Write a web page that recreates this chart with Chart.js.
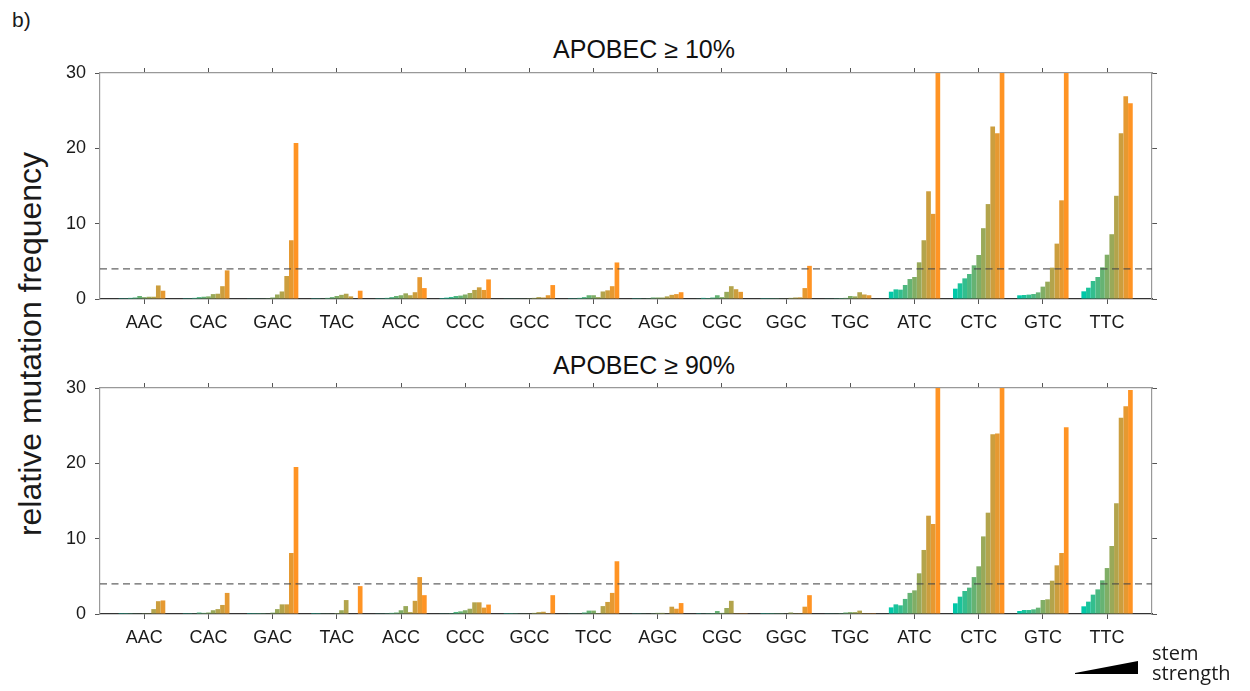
<!DOCTYPE html>
<html>
<head>
<meta charset="utf-8">
<title>APOBEC mutation frequency by stem strength</title>
<script src="https://cdn.jsdelivr.net/npm/chart.js@4"></script>
<style>
    body {
        margin: 0;
        width: 1250px;
        height: 691px;
        position: relative;
        overflow: hidden;
        background: #fff;
        font-family: "Liberation Sans", Arial, sans-serif;
        color: #1a1a1a;
    }
    canvas { position: absolute; left: 0; }
    #panel-label { position: absolute; left: 12px; top: 8px; font-size: 21px; line-height: 24px; }
    .panel-title {
        position: absolute; left: 644px;
        transform: translateX(-50%);
        white-space: nowrap; font-size: 25px; line-height: 30px; color: #111;
    }
    #y-title {
        position: absolute; left: 30px; top: 344px;
        transform: translate(-50%, -50%) rotate(-90deg);
        white-space: nowrap; font-size: 32px; line-height: 36px;
    }
    #stem-wedge { position: absolute; left: 1075px; top: 660px; }
    #stem-label {
        position: absolute; left: 1152px; top: 643px;
        font-family: "Open Sans", "Noto Sans", sans-serif;
        font-size: 20px; line-height: 20px;
    }
</style>
</head>
<body>
<div id="panel-label">b)</div>
<div id="y-title">relative mutation frequency</div>
<div class="panel-title" id="title-10" style="top:34px"></div>
<div class="panel-title" id="title-90" style="top:350px"></div>
<canvas id="chart-10" width="1250" height="315" style="top:30px"></canvas>
<canvas id="chart-90" width="1250" height="315" style="top:345px"></canvas>
<svg id="stem-wedge" width="64" height="15"><polygon points="0,13 63,1 63,14 0,14" fill="#000"/></svg>
<div id="stem-label">stem<br>strength</div>

<script>
// --- Données ---

// contextes trinucléotidiques (axe x)
const contexts = ['AAC', 'CAC', 'GAC', 'TAC', 'ACC', 'CCC', 'GCC', 'TCC',
                  'AGC', 'CGC', 'GGC', 'TGC', 'ATC', 'CTC', 'GTC', 'TTC'];

// 11 niveaux de force de tige, du plus faible au plus fort
const stemLevels = [1, 2, 3, 4, 5, 6, 7, 8, 9, 10, 11];

const panelTitles = ['APOBEC \u2265 10%', 'APOBEC \u2265 90%'];
const yTicks = [0, 10, 20, 30];
const cutoff = 4;

// une ligne par contexte, une valeur par niveau de tige
const freqApobec10 = [
    [0.1, 0.1, 0.15, 0.2, 0.4, 0.25, 0.3, 0.3, 1.8, 1.1, 0],          // AAC
    [0.1, 0.1, 0.15, 0.25, 0.3, 0.35, 0.65, 0.7, 1.7, 3.8, 0],        // CAC
    [0.05, 0.05, 0.05, 0.05, 0.1, 0.2, 0.6, 1.0, 3.05, 7.8, 20.7],    // GAC
    [0.1, 0.1, 0.08, 0.15, 0.25, 0.4, 0.55, 0.7, 0.35, 0, 1.1],       // TAC
    [0.1, 0.1, 0.15, 0.25, 0.4, 0.5, 0.75, 0.5, 0.9, 2.9, 1.45],      // ACC
    [0.12, 0.18, 0.27, 0.4, 0.45, 0.6, 0.8, 1.2, 1.55, 1.2, 2.6],     // CCC
    [0.05, 0.05, 0.05, 0.05, 0.08, 0.1, 0.15, 0.25, 0.2, 0.5, 1.85],  // GCC
    [0.1, 0.1, 0.15, 0.25, 0.5, 0.5, 0.25, 1.0, 1.15, 1.7, 4.85],     // TCC
    [0.1, 0.1, 0.08, 0.1, 0.2, 0.2, 0.2, 0.35, 0.55, 0.65, 0.9],      // AGC
    [0.08, 0.15, 0.12, 0.2, 0.5, 0.25, 0.95, 1.7, 1.3, 0.95, 0],      // CGC
    [0.03, 0.03, 0.03, 0.03, 0.05, 0.08, 0.15, 0.2, 0.22, 1.45, 4.4], // GGC
    [0.08, 0.08, 0.1, 0.12, 0.15, 0.4, 0.35, 0.9, 0.6, 0.5, 0],       // TGC
    [0.97, 1.28, 1.24, 1.86, 2.65, 2.92, 4.87, 7.8, 14.3, 11.3, 35],  // ATC
    [1.37, 2.08, 2.74, 3.32, 4.47, 5.84, 9.4, 12.6, 22.9, 22.0, 38],  // CTC
    [0.49, 0.53, 0.58, 0.66, 0.88, 1.64, 2.3, 4.16, 7.35, 13.1, 33],  // GTC
    [1.02, 1.5, 2.39, 2.92, 4.2, 5.88, 8.6, 13.7, 22.0, 26.9, 26.0]   // TTC
];

const freqApobec90 = [
    [0.02, 0.02, 0.03, 0.05, 0.08, 0.1, 0.1, 0.65, 1.7, 1.8, 0],        // AAC
    [0.03, 0.03, 0.05, 0.2, 0.15, 0.2, 0.5, 0.65, 1.2, 2.8, 0],         // CAC
    [0.02, 0.02, 0.02, 0.03, 0.05, 0.18, 0.65, 1.28, 1.28, 8.1, 19.5],  // GAC
    [0.02, 0.02, 0.05, 0.05, 0.08, 0.12, 0.5, 1.85, 0, 0, 3.7],         // TAC
    [0.05, 0.05, 0.1, 0.15, 0.2, 0.5, 1.05, 0.25, 1.75, 4.9, 2.5],      // ACC
    [0.05, 0.05, 0.1, 0.27, 0.35, 0.5, 0.7, 1.55, 1.55, 0.85, 1.25],    // CCC
    [0.02, 0.02, 0.03, 0.05, 0.05, 0.08, 0.15, 0.25, 0.3, 0.02, 2.5],   // GCC
    [0.05, 0.05, 0.08, 0.2, 0.45, 0.45, 0.12, 1.05, 1.6, 2.8, 7.0],     // TCC
    [0.04, 0.04, 0.05, 0.06, 0.1, 0.15, 0.15, 0.05, 0.97, 0.7, 1.45],   // AGC
    [0.03, 0.05, 0.1, 0.12, 0.4, 0.15, 0.8, 1.75, 0.03, 0.03, 0.03],    // CGC
    [0.02, 0.02, 0.02, 0.03, 0.03, 0.05, 0.2, 0.1, 0.03, 0.97, 2.5],    // GGC
    [0.05, 0.05, 0.08, 0.1, 0.2, 0.25, 0.25, 0.45, 0.03, 0.03, 0.03],   // TGC
    [0.88, 1.28, 1.15, 2.0, 2.8, 3.14, 5.4, 8.5, 13.05, 11.95, 36],     // ATC
    [1.42, 2.3, 3.05, 3.5, 4.9, 6.33, 10.3, 13.45, 23.85, 23.95, 40],   // CTC
    [0.4, 0.53, 0.53, 0.62, 0.84, 1.86, 1.95, 4.42, 6.46, 8.1, 24.8],   // GTC
    [1.02, 1.64, 2.57, 3.27, 4.47, 6.1, 9.03, 14.7, 26.06, 27.57, 29.73] // TTC
];

// --- Style ---

const X_MIN = -0.69;
const X_MAX = 15.7;
const FONT = '"Liberation Sans", Arial, sans-serif';

const tealRgb   = [0, 200, 168];
const orangeRgb = [255, 148, 36];

function stemColor(k) {
    const t = k / (stemLevels.length - 1);
    const c = tealRgb.map((a, j) => Math.round(a + (orangeRgb[j] - a) * t));
    return `rgb(${c[0]}, ${c[1]}, ${c[2]})`;
}

// ligne pointillée du seuil
const cutoffLine = {
    id: 'cutoffLine',
    afterDatasetsDraw(chart) {
        const { ctx, chartArea, scales } = chart;
        const y = scales.y.getPixelForValue(cutoff);
        ctx.save();
        ctx.strokeStyle = 'rgba(70, 70, 70, 0.85)';
        ctx.lineWidth = 1.2;
        ctx.setLineDash([7, 4.5]);
        ctx.beginPath();
        ctx.moveTo(chartArea.left, y);
        ctx.lineTo(chartArea.right, y);
        ctx.stroke();
        ctx.restore();
    }
};

const contextTicks = scale => { scale.ticks = contexts.map((_, i) => ({ value: i })); };
const freqTicks    = scale => { scale.ticks = yTicks.map(v => ({ value: v })); };

const tickFont = { family: FONT, size: 18 };
const gridOpts = { drawOnChartArea: false, offset: false, tickLength: 5, color: '#555', tickWidth: 1 };

function makePanel(canvasId, titleId, title, rows) {
    document.getElementById(titleId).textContent = title;

    const datasets = stemLevels.map((level, k) => ({
        label: `stem ${level}`,
        data: contexts.map((c, i) => ({ x: i, y: rows[i][k] })),
        backgroundColor: stemColor(k),
        borderWidth: 0,
        categoryPercentage: 0.8,
        barPercentage: 1.0
    }));

    return new Chart(document.getElementById(canvasId), {
        type: 'bar',
        data: { datasets },
        options: {
            responsive: false,
            animation: false,
            layout: { padding: 0 },
            scales: {
                x: {
                    type: 'linear', position: 'bottom', min: X_MIN, max: X_MAX,
                    bounds: 'data', offset: false,
                    afterBuildTicks: contextTicks,
                    afterFit: s => { s.height = 46; },
                    ticks: {
                        callback: v => contexts[v],
                        font: tickFont, color: '#1a1a1a', padding: 8,
                        autoSkip: false, maxRotation: 0
                    },
                    grid: gridOpts,
                    border: { display: true, color: '#333', width: 1.3 },
                    z: 1
                },
                xTop: {
                    type: 'linear', position: 'top', min: X_MIN, max: X_MAX,
                    bounds: 'data', offset: false,
                    afterBuildTicks: contextTicks,
                    afterFit: s => { s.height = 43; },
                    ticks: { display: false },
                    grid: gridOpts,
                    border: { display: true, color: '#999', width: 1.2 },
                    z: 1
                },
                y: {
                    type: 'linear', position: 'left', min: 0, max: 30,
                    afterBuildTicks: freqTicks,
                    afterFit: s => { s.width = 100; },
                    ticks: { font: tickFont, color: '#1a1a1a', padding: 9 },
                    grid: gridOpts,
                    border: { display: true, color: '#999', width: 1.2 },
                    z: 1
                },
                yRight: {
                    type: 'linear', position: 'right', min: 0, max: 30,
                    afterBuildTicks: freqTicks,
                    afterFit: s => { s.width = 98; },
                    ticks: { display: false },
                    grid: gridOpts,
                    border: { display: true, color: '#999', width: 1.2 },
                    z: 1
                }
            },
            plugins: {
                legend: { display: false },
                tooltip: { enabled: false },
                title: { display: false }
            }
        },
        plugins: [cutoffLine]
    });
}

document.addEventListener('DOMContentLoaded', () => {
    makePanel('chart-10', 'title-10', panelTitles[0], freqApobec10);
    makePanel('chart-90', 'title-90', panelTitles[1], freqApobec90);
});
</script>
</body>
</html>
